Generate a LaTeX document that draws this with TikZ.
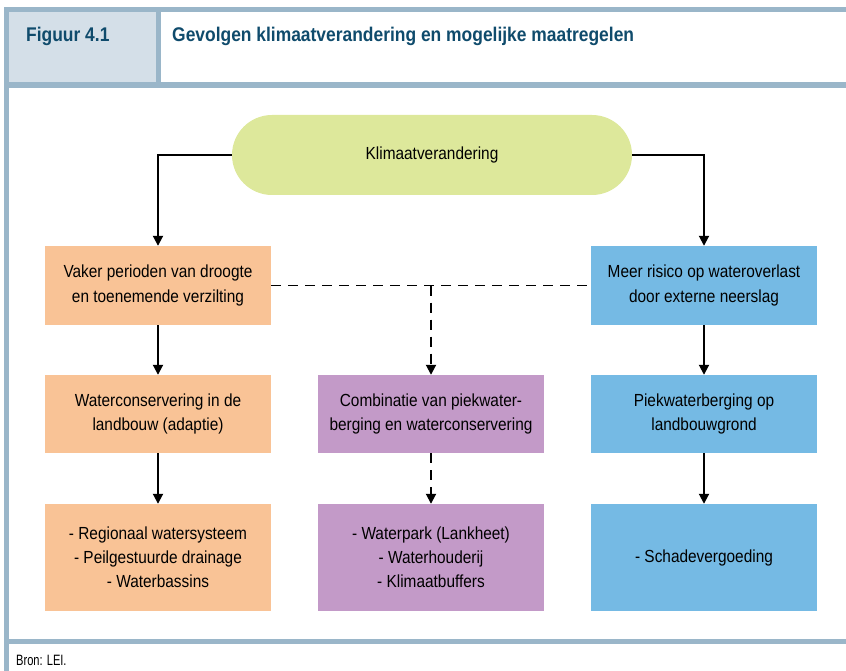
\documentclass[tikz,border=0pt]{standalone}
\usepackage{fontspec}
\setmainfont{Liberation Sans}[FakeStretch=0.88]
\newfontfamily\bronfont{Liberation Sans}[FakeStretch=0.74]
\usetikzlibrary{positioning,arrows.meta}

\definecolor{framecol}{HTML}{9AB6C9}
\definecolor{headfill}{HTML}{D4DFE8}
\definecolor{titlecol}{HTML}{0F4B6C}
\definecolor{droogcol}{HTML}{F9C396}
\definecolor{combicol}{HTML}{C39AC8}
\definecolor{natcol}{HTML}{75BAE4}
\definecolor{klimcol}{HTML}{DDE89B}

\begin{document}
\begin{tikzpicture}[x=1pt,y=-1pt,
    box/.style={fill=#1,minimum width=226pt,inner sep=0pt,align=center,
      font=\fontsize{17.5}{24}\selectfont},
    link/.style={line width=1.9pt,-{Triangle[width=10pt,length=10pt]}},
    dlink/.style={link,dash pattern=on 10pt off 7pt}]
  \useasboundingbox (0,0) rectangle (846,671);

  % frame and header
  \fill[headfill] (9,12) rectangle (156,82);
  \fill[framecol] (4,7) rectangle (846,12);
  \fill[framecol] (4,7) rectangle (9,671);
  \fill[framecol] (156,12) rectangle (161,82);
  \fill[framecol] (4,82) rectangle (846,88);
  \fill[framecol] (4,639) rectangle (846,644);
  \node[anchor=base west,inner sep=0pt,text=titlecol,font=\fontsize{19.8}{22}\selectfont\bfseries]
    (fignr) at (26,42) {Figuur 4.1};
  \node[anchor=base west,inner sep=0pt,text=titlecol,font=\fontsize{19.8}{22}\selectfont\bfseries]
    (figtitle) at (172,42) {Gevolgen klimaatverandering en mogelijke maatregelen};
  \node[anchor=base west,inner sep=0pt,font=\bronfont\fontsize{15}{16}\selectfont]
    (bron) at (16,665) {Bron: LEI.};

  % diagram
  \node[fill=klimcol,minimum width=400pt,minimum height=80pt,rounded corners=40pt,
    font=\fontsize{17.5}{24}\selectfont] (klimaat) at (432,155) {Klimaatverandering};

  \node[box=droogcol,minimum height=79pt,font=\fontsize{17.5}{25}\selectfont] (droogte) at (158,285.5)
    {Vaker perioden van droogte\\en toenemende verzilting};
  \node[box=natcol,minimum height=79pt,font=\fontsize{17.5}{25}\selectfont] (overlast) at (704,285.5)
    {Meer risico op wateroverlast\\door externe neerslag};

  \node[box=droogcol,minimum height=78pt] (conserv) at (158,414)
    {Waterconservering in de\\landbouw (adaptie)};
  \node[box=combicol,minimum height=78pt] (combi) at (431,414)
    {Combinatie van piekwater-\\berging en waterconservering};
  \node[box=natcol,minimum height=78pt] (piek) at (704,414)
    {Piekwaterberging op\\landbouwgrond};

  \node[box=droogcol,minimum height=107pt] (maatlinks) at (158,557.5)
    {- Regionaal watersysteem\\- Peilgestuurde drainage\\- Waterbassins};
  \node[box=combicol,minimum height=107pt] (maatmidden) at (431,557.5)
    {- Waterpark (Lankheet)\\- Waterhouderij\\- Klimaatbuffers};
  \node[box=natcol,minimum height=107pt] (maatrechts) at (704,557.5)
    {- Schadevergoeding};

  \draw[link] (klimaat.west) -| (droogte.north);
  \draw[link] (klimaat.east) -| (overlast.north);
  \draw[link] (droogte) -- (conserv);
  \draw[link] (conserv) -- (maatlinks);
  \draw[link] (overlast) -- (piek);
  \draw[link] (piek) -- (maatrechts);

  \draw[line width=1.9pt,dash pattern=on 10pt off 7pt] (droogte.east) -- (overlast.west);
  \coordinate (splits) at (combi.north |- droogte.east);
  \draw[dlink] (splits) -- (combi.north);
  \draw[dlink] (combi) -- (maatmidden);
\end{tikzpicture}
\end{document}
